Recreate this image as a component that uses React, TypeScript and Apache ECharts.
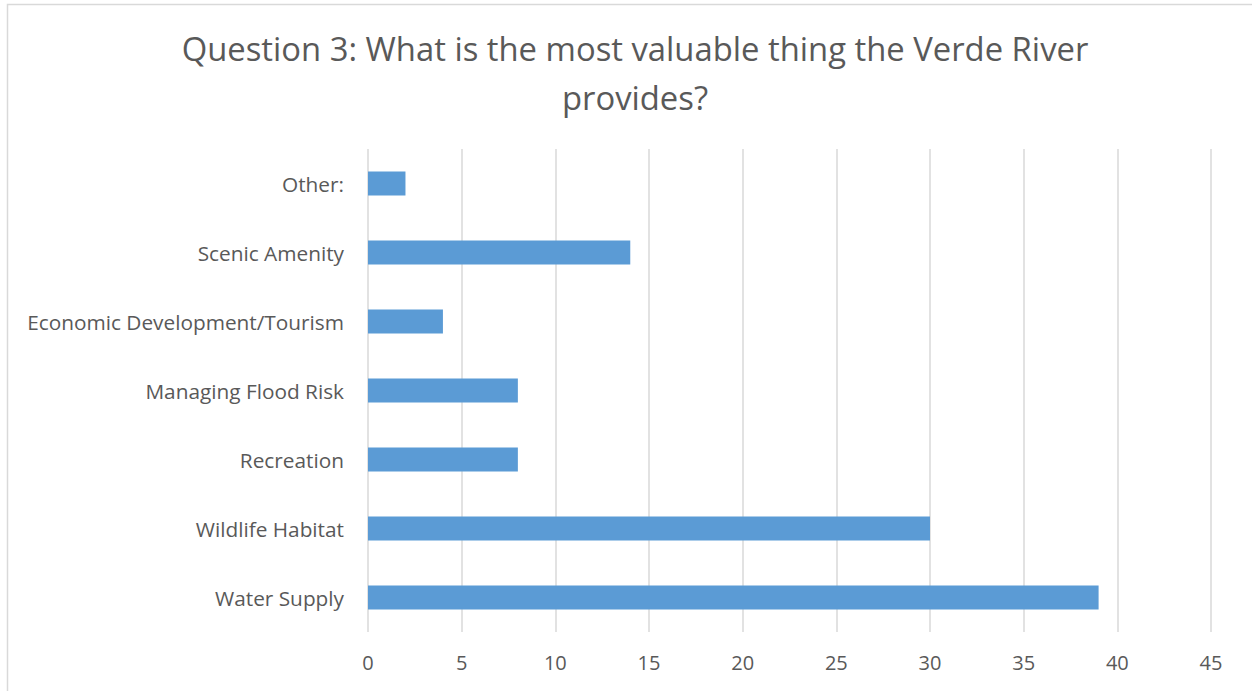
import React, { useEffect, useRef } from "react";
import * as echarts from "echarts";

const categories = [
  "Water Supply",
  "Wildlife Habitat",
  "Recreation",
  "Managing Flood Risk",
  "Economic Development/Tourism",
  "Scenic Amenity",
  "Other:",
];
const values = [39, 30, 8, 8, 4, 14, 2];
const titleText = "Question 3: What is the most valuable thing the Verde River\nprovides?";

const FONT = "'Open Sans', sans-serif";

export default function App() {
  const ref = useRef<HTMLDivElement>(null);
  useEffect(() => {
    const chart = echarts.init(ref.current!, null, { renderer: "svg" });
    chart.setOption({
      animation: false,
      backgroundColor: "#ffffff",
      graphic: [
        {
          type: "rect",
          shape: { x: 7.5, y: 4.5, width: 1400, height: 900 },
          style: { fill: "none", stroke: "#d9d9d9", lineWidth: 1.5 },
          silent: true,
        },
      ],
      title: {
        text: titleText,
        left: 630,
        textAlign: "center",
        top: 19,
        textStyle: {
          fontFamily: FONT,
          fontSize: 32.8,
          fontWeight: "normal",
          color: "#595959",
          lineHeight: 49,
        },
      },
      grid: { left: 368, right: 41, top: 149, bottom: 59, containLabel: false },
      xAxis: {
        type: "value",
        min: 0,
        max: 45,
        interval: 5,
        axisLine: { show: false },
        axisTick: { show: false },
        splitLine: { show: true, lineStyle: { color: "#d9d9d9", width: 1.5 } },
        axisLabel: { fontFamily: FONT, fontSize: 20, color: "#595959", margin: 20 },
      },
      yAxis: {
        type: "category",
        data: categories,
        axisLine: { show: false },
        axisTick: { show: false },
        axisLabel: {
          fontFamily: FONT,
          fontSize: 20.8,
          color: "#595959",
          margin: 24,
          padding: [0, 0, 3, 0],
        },
      },
      series: [
        {
          type: "bar",
          data: values,
          barWidth: "35%",
          itemStyle: { color: "#5b9bd5" },
        },
      ],
    });
    return () => chart.dispose();
  }, []);
  return (
    <div
      ref={ref}
      style={{ position: "fixed", left: 0, top: 0, width: 1252, height: 691 }}
    />
  );
}
